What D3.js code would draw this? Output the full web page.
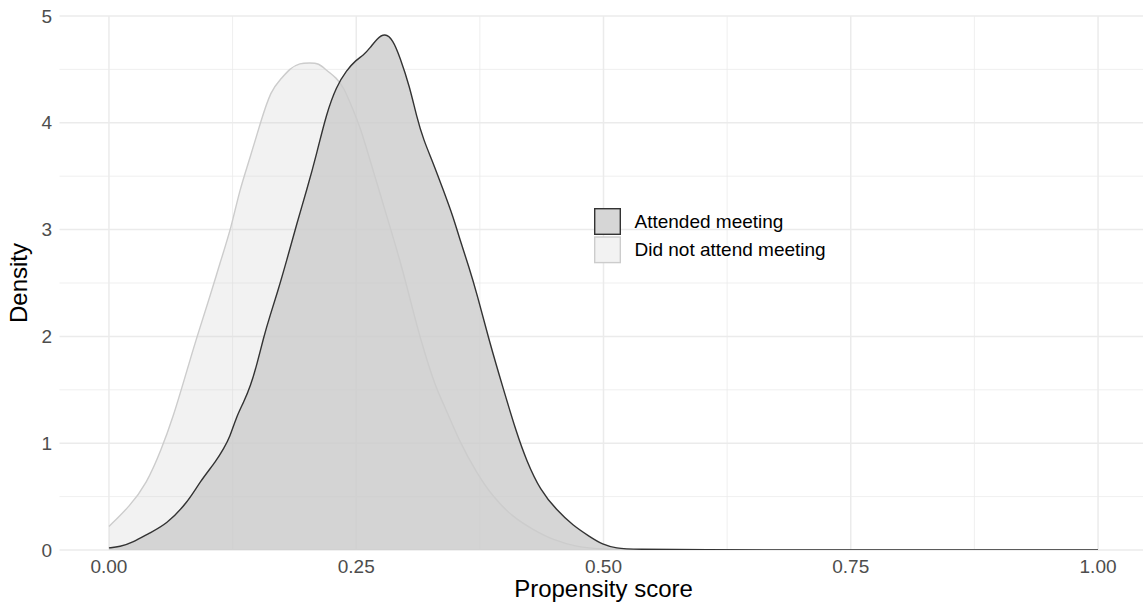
<!DOCTYPE html>
<html lang="en">
  <head>
    <meta charset="UTF-8" />
    <script src="https://cdn.jsdelivr.net/npm/d3@7"></script>
    <style>
      * {
        margin: 0;
        padding: 0;
      }
      body {
        background: #fff;
      }
      svg {
        display: block;
        font-family: 'Liberation Sans', Arial, sans-serif;
      }
    </style>
    <title>Propensity score density</title>
  </head>
  <body>
    <div id="container"></div>
  </body>
  <script>
    // density of the attended group
    const attendedScore = [
      0, 0.011, 0.024, 0.041, 0.058, 0.079, 0.092, 0.109, 0.116, 0.122, 0.129,
      0.136, 0.143, 0.15, 0.156, 0.163, 0.17, 0.18, 0.19, 0.2, 0.21, 0.22,
      0.23, 0.24, 0.25, 0.257, 0.264, 0.271, 0.279, 0.287, 0.294, 0.304,
      0.311, 0.318, 0.328, 0.338, 0.348, 0.355, 0.364, 0.372, 0.385, 0.399,
      0.412, 0.422, 0.436, 0.453, 0.469, 0.486, 0.499, 0.513, 0.53, 0.6, 0.7,
      1.0,
    ];
    const attendedDensity = [
      0.02, 0.03, 0.07, 0.16, 0.24, 0.44, 0.64, 0.84, 0.95, 1.05, 1.25, 1.38,
      1.53, 1.75, 1.98, 2.2, 2.4, 2.72, 3.06, 3.37, 3.71, 4.09, 4.34, 4.49,
      4.59, 4.63, 4.7, 4.79, 4.84, 4.78, 4.62, 4.34, 4.06, 3.84, 3.62, 3.37,
      3.12, 2.9, 2.65, 2.4, 1.94, 1.5, 1.1, 0.84, 0.56, 0.37, 0.23, 0.125,
      0.05, 0.016, 0.006, 0.001, 0, 0,
    ];

    // density of the group that did not attend
    const notAttendedScore = [
      0, 0.021, 0.038, 0.053, 0.065, 0.075, 0.089, 0.102, 0.112, 0.124, 0.132,
      0.143, 0.153, 0.164, 0.173, 0.183, 0.193, 0.203, 0.212, 0.22, 0.23,
      0.237, 0.247, 0.254, 0.264, 0.274, 0.284, 0.294, 0.304, 0.314, 0.331,
      0.338, 0.355, 0.372, 0.388, 0.408, 0.429, 0.449, 0.473, 0.496, 0.55,
      0.7, 1.0,
    ];
    const notAttendedDensity = [
      0.22, 0.41, 0.62, 0.94, 1.25, 1.56, 2.0, 2.37, 2.68, 3.03, 3.37, 3.68,
      4.0, 4.31, 4.4, 4.51, 4.56, 4.56, 4.56, 4.49, 4.42, 4.34, 4.12, 3.96,
      3.65, 3.34, 3.03, 2.72, 2.37, 2.0, 1.5, 1.38, 1.0, 0.72, 0.5, 0.31,
      0.19, 0.094, 0.03, 0.006, 0.001, 0, 0,
    ];

    const groups = ['Attended meeting', 'Did not attend meeting'];
    const xTicks = [0, 0.25, 0.5, 0.75, 1];
    const xMinor = [0.125, 0.375, 0.625, 0.875];
    const yTicks = [0, 1, 2, 3, 4, 5];
    const yMinor = [0.5, 1.5, 2.5, 3.5, 4.5];

    const width = 1143;
    const height = 608;
    const panel = { left: 59.5, right: 1147.5, top: 16, bottom: 550 };

    const x = d3.scaleLinear().domain([-0.05, 1.05]).range([panel.left, panel.right]);
    const y = d3.scaleLinear().domain([0, 5]).range([panel.bottom, panel.top]);

    const svg = d3
      .select('#container')
      .append('svg')
      .attr('width', width)
      .attr('height', height);

    svg
      .append('clipPath')
      .attr('id', 'panelClip')
      .append('rect')
      .attr('x', panel.left)
      .attr('y', panel.top)
      .attr('width', panel.right - panel.left)
      .attr('height', panel.bottom - panel.top);

    // grid
    const grid = svg.append('g');
    grid
      .append('g')
      .selectAll('line')
      .data(yMinor)
      .join('line')
      .attr('x1', panel.left)
      .attr('x2', panel.right)
      .attr('y1', (d) => y(d))
      .attr('y2', (d) => y(d))
      .attr('stroke', '#ebebeb')
      .attr('stroke-width', 0.8);
    grid
      .append('g')
      .selectAll('line')
      .data(xMinor)
      .join('line')
      .attr('x1', (d) => x(d))
      .attr('x2', (d) => x(d))
      .attr('y1', panel.top)
      .attr('y2', panel.bottom)
      .attr('stroke', '#ebebeb')
      .attr('stroke-width', 0.8);
    grid
      .append('g')
      .selectAll('line')
      .data(yTicks)
      .join('line')
      .attr('x1', panel.left)
      .attr('x2', panel.right)
      .attr('y1', (d) => y(d))
      .attr('y2', (d) => y(d))
      .attr('stroke', '#ebebeb')
      .attr('stroke-width', 1.5);
    grid
      .append('g')
      .selectAll('line')
      .data(xTicks)
      .join('line')
      .attr('x1', (d) => x(d))
      .attr('x2', (d) => x(d))
      .attr('y1', panel.top)
      .attr('y2', panel.bottom)
      .attr('stroke', '#ebebeb')
      .attr('stroke-width', 1.5);

    // densities
    const series = [
      {
        name: groups[1],
        pts: notAttendedScore.map((s, i) => [s, notAttendedDensity[i]]),
        fill: '#cccccc',
        opacity: 0.25,
        line: '#cccccc',
      },
      {
        name: groups[0],
        pts: attendedScore.map((s, i) => [s, attendedDensity[i]]),
        fill: '#cccccc',
        opacity: 0.8,
        line: '#333333',
      },
    ];

    const area = d3
      .area()
      .x((d) => x(d[0]))
      .y0(y(0))
      .y1((d) => y(d[1]))
      .curve(d3.curveBasis);
    const line = d3
      .line()
      .x((d) => x(d[0]))
      .y((d) => y(d[1]))
      .curve(d3.curveBasis);

    const plot = svg.append('g').attr('clip-path', 'url(#panelClip)');
    series.forEach((s) => {
      plot
        .append('path')
        .datum(s.pts)
        .attr('d', area)
        .attr('fill', s.fill)
        .attr('fill-opacity', s.opacity);
      plot
        .append('path')
        .datum(s.pts)
        .attr('d', line)
        .attr('fill', 'none')
        .attr('stroke', s.line)
        .attr('stroke-width', 1.4);
    });

    // axis labels
    svg
      .append('g')
      .selectAll('text')
      .data(xTicks)
      .join('text')
      .attr('x', (d) => x(d))
      .attr('y', 573)
      .attr('text-anchor', 'middle')
      .attr('font-size', 19)
      .attr('fill', '#4d4d4d')
      .text((d) => d3.format('.2f')(d));

    svg
      .append('g')
      .selectAll('text')
      .data(yTicks)
      .join('text')
      .attr('x', 52)
      .attr('y', (d) => y(d))
      .attr('dy', '0.35em')
      .attr('text-anchor', 'end')
      .attr('font-size', 19)
      .attr('fill', '#4d4d4d')
      .text((d) => d);

    svg
      .append('text')
      .attr('x', (panel.left + panel.right) / 2)
      .attr('y', 597)
      .attr('text-anchor', 'middle')
      .attr('font-size', 24)
      .attr('fill', '#000')
      .text('Propensity score');

    svg
      .append('text')
      .attr('transform', `translate(27,${(panel.top + panel.bottom) / 2}) rotate(-90)`)
      .attr('text-anchor', 'middle')
      .attr('font-size', 24)
      .attr('fill', '#000')
      .text('Density');

    // legend
    const legend = svg.append('g').attr('transform', 'translate(594,208)');
    const keys = [
      { name: groups[0], fill: '#d6d6d6', stroke: '#333333' },
      { name: groups[1], fill: '#f2f2f2', stroke: '#cccccc' },
    ];
    keys.forEach((k, i) => {
      legend
        .append('rect')
        .attr('x', 0.7)
        .attr('y', i * 28.3 + 0.7)
        .attr('width', 25.6)
        .attr('height', 25.6)
        .attr('fill', k.fill)
        .attr('stroke', k.stroke)
        .attr('stroke-width', 1.4);
      legend
        .append('text')
        .attr('x', 40.5)
        .attr('y', i * 28.3 + 13.5)
        .attr('dy', '0.35em')
        .attr('font-size', 19)
        .attr('fill', '#000')
        .text(k.name);
    });
  </script>
</html>
